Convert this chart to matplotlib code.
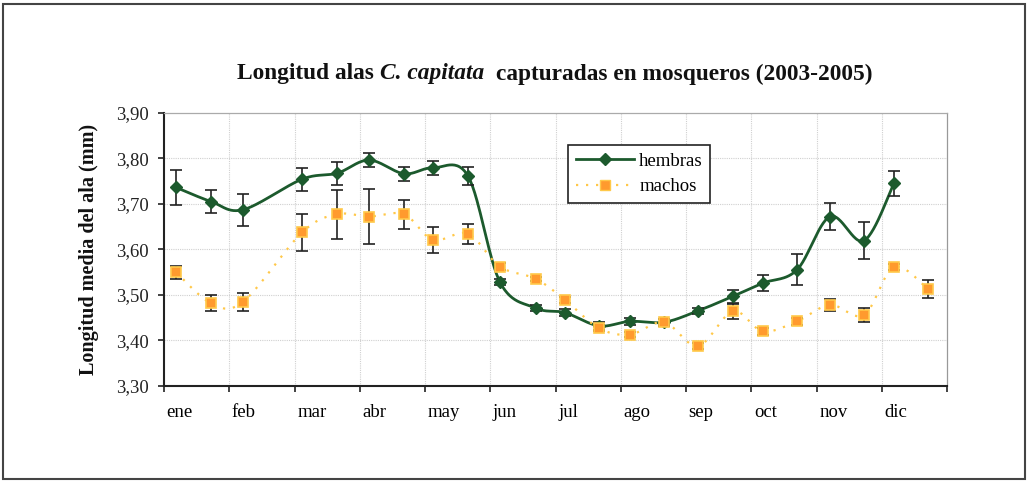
import numpy as np
import matplotlib
matplotlib.use("Agg")
import matplotlib.pyplot as plt
from matplotlib.patches import Rectangle
from matplotlib.lines import Line2D

# ---------------- data ----------------
months = ["ene", "feb", "mar", "abr", "may", "jun", "jul", "ago", "sep", "oct", "nov", "dic"]
x_pos = [0.184, 0.720, 1.211, 2.115, 2.651, 3.142, 3.678, 4.123, 4.659, 5.149, 5.701, 6.146,
         6.667, 7.142, 7.663, 8.184, 8.720, 9.180, 9.701, 10.207, 10.728, 11.188, 11.709]
hembras = [3.736, 3.705, 3.687, 3.754, 3.767, 3.796, 3.766, 3.779, 3.761, 3.528, 3.471, 3.461,
           3.432, 3.442, 3.440, 3.465, 3.497, 3.526, 3.555, 3.672, 3.619, 3.745]
hembras_err = [0.039, 0.025, 0.035, 0.025, 0.025, 0.016, 0.015, 0.015, 0.019, 0.007, 0.006, 0.008,
               0.008, 0.008, 0.008, 0.007, 0.014, 0.017, 0.034, 0.030, 0.040, 0.027]
machos = [3.550, 3.482, 3.485, 3.637, 3.677, 3.672, 3.677, 3.621, 3.634, 3.562, 3.535, 3.489,
          3.427, 3.413, 3.440, 3.388, 3.464, 3.420, 3.442, 3.478, 3.456, 3.561, 3.513]
machos_err = [0.014, 0.018, 0.020, 0.040, 0.054, 0.060, 0.032, 0.028, 0.022, 0.008, 0.004, 0.007,
              0.007, 0.005, 0.006, 0.007, 0.017, 0.007, 0.008, 0.014, 0.016, 0.007, 0.019]
y_ticks = [3.30, 3.40, 3.50, 3.60, 3.70, 3.80, 3.90]

GREEN = "#1c5a2d"
ORANGE_FACE = "#ff9a2e"
ORANGE_EDGE = "#ffc94a"
ORANGE_LINE = "#ffc849"
SERIF = ["Liberation Serif", "DejaVu Serif"]

plt.rcParams["font.family"] = SERIF

W, H = 1029, 483
fig = plt.figure(figsize=(W / 100, H / 100), dpi=100)
ax = fig.add_axes([164 / W, 1 - 386 / H, (947 - 164) / W, (386 - 112.7) / H])
ax.set_xlim(0, 12)
ax.set_ylim(3.30, 3.90)


def smooth(ax, xs, ys, n=30):
    """Excel-like smoothed curve (Catmull-Rom Bezier) in display space."""
    pts = ax.transData.transform(np.column_stack([xs, ys]))
    P = np.vstack([pts[0], pts, pts[-1]])
    out = []
    for i in range(1, len(P) - 2):
        p0, p1, p2, p3 = P[i - 1], P[i], P[i + 1], P[i + 2]
        c1 = p1 + (p2 - p0) / 6.0
        c2 = p2 - (p3 - p1) / 6.0
        t = np.linspace(0, 1, n)[:, None]
        seg = ((1 - t) ** 3) * p1 + 3 * ((1 - t) ** 2) * t * c1 + 3 * (1 - t) * t ** 2 * c2 + t ** 3 * p2
        out.append(seg if i == 1 else seg[1:])
    out = np.vstack(out)
    d = ax.transData.inverted().transform(out)
    return d[:, 0], d[:, 1]


# grid
for v in y_ticks[1:-1]:
    ax.axhline(v, color="#d0d0d0", lw=0.8, ls=(0, (1, 1)), zorder=0)
for m in range(1, 12):
    ax.axvline(m, color="#d0d0d0", lw=0.8, ls=(0, (1, 1)), zorder=0)

xh = x_pos[:len(hembras)]
sx, sy = smooth(ax, xh, hembras)
ax.plot(sx, sy, color=GREEN, lw=2.0, zorder=3)
ax.errorbar(xh, hembras, yerr=hembras_err, fmt="none", ecolor="#222222", elinewidth=1.2,
            capsize=4, capthick=1.2, zorder=4)
ax.plot(xh, hembras, ls="none", marker="D", ms=6.5, mfc=GREEN, mec=GREEN, zorder=5)

mx, my = smooth(ax, x_pos, machos)
ax.plot(mx, my, color=ORANGE_LINE, lw=1.6, ls=(0, (1, 3.5)), zorder=3)
ax.errorbar(x_pos, machos, yerr=machos_err, fmt="none", ecolor="#222222", elinewidth=1.2,
            capsize=4, capthick=1.2, zorder=6)
ax.plot(x_pos, machos, ls="none", marker="s", ms=7, mfc=ORANGE_FACE, mec=ORANGE_EDGE, mew=1.2, zorder=7)

# spines
for s in ["left", "bottom"]:
    ax.spines[s].set_color("#222222")
    ax.spines[s].set_linewidth(1.5)
ax.spines["top"].set_color("#aaaaaa")
ax.spines["top"].set_linestyle((0, (1, 1)))
ax.spines["top"].set_linewidth(0.9)
ax.spines["right"].set_color("#999999")
ax.spines["right"].set_linewidth(0.9)

# ticks
ax.set_yticks(y_ticks)
ax.set_yticklabels([f"{v:.2f}".replace(".", ",") for v in y_ticks], fontsize=13.5)
ax.tick_params(axis="y", direction="out", length=4, width=1.2, pad=7, colors="#222222")
ax.set_xticks(range(13))
ax.set_xticklabels([""] * 13)
ax.tick_params(axis="x", which="major", direction="out", length=4, width=1.2, color="#222222")
ax.set_xticks([i + 0.04 for i in range(12)], minor=True)
ax.set_xticklabels(months, minor=True, fontsize=13.5)
ax.tick_params(axis="x", which="minor", length=0, pad=13)
for lab in ax.get_xticklabels(minor=True):
    lab.set_ha("left")

fig.text(89 / W, 1 - 249 / H, "Longitud media del ala (mm)", rotation=90, ha="center", va="center",
         fontsize=14.5, fontweight="bold", color="#111111")

# legend
handles = [Line2D([], [], color=GREEN, lw=2, marker="D", ms=6.5, mfc=GREEN, mec=GREEN),
           Line2D([], [], color=ORANGE_LINE, lw=1.6, ls=(0, (1, 3.5)), marker="s", ms=7,
                  mfc=ORANGE_FACE, mec=ORANGE_EDGE)]
leg = ax.legend(handles, ["hembras", "machos"], loc="upper left",
                bbox_to_anchor=((568 - 164) / 783, 1 - (145 - 112.7) / 273.3),
                borderaxespad=0, frameon=True, fancybox=False, edgecolor="#222222", framealpha=1,
                fontsize=13.5, handlelength=3.1, borderpad=0.4, labelspacing=0.45, handletextpad=0.3)
leg.get_frame().set_linewidth(1.2)

# title with mixed styles
fig.canvas.draw()
r = fig.canvas.get_renderer()
TS = 16.8
parts = [("Longitud alas", "normal"), ("C. capitata", "italic"), ("capturadas en mosqueros (2003-2005)", "normal")]
texts = [fig.text(0, 1 - 74 / H, p, fontsize=TS, fontweight="bold", style=st, va="center", ha="left",
                  color="#111111") for p, st in parts]
sp = fig.text(0, 0, "a a", fontsize=TS, fontweight="bold")
sp2 = fig.text(0, 0, "aa", fontsize=TS, fontweight="bold")
space = sp.get_window_extent(r).width - sp2.get_window_extent(r).width
sp.remove(); sp2.remove()
widths = [t.get_window_extent(r).width for t in texts]
gaps = [space, 2 * space]
total = sum(widths) + sum(gaps)
x0 = 555 - total / 2
for i, t in enumerate(texts):
    t.set_x(x0 / W)
    x0 += widths[i] + (gaps[i] if i < 2 else 0)

# outer frame
fig.patches.append(Rectangle((3 / W, 4 / H), 1022 / W, 475 / H, transform=fig.transFigure,
                             fill=False, edgecolor="#444444", lw=1.5))

fig.savefig("out.png", dpi=100)
